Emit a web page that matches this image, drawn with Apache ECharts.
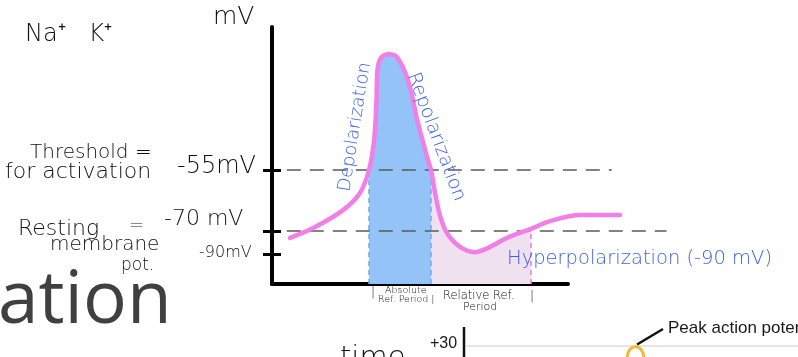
<!DOCTYPE html>
<html>
<head>
<meta charset="utf-8">
<script src="https://cdn.jsdelivr.net/npm/echarts@6/dist/echarts.min.js"></script>
<style>
html,body{margin:0;padding:0;background:#fff;}
#chart{width:798px;height:357px;}
</style>
</head>
<body>
<div id="chart"></div>
<script>
// ---- data (time in arbitrary units, membrane potential in sketch mV) ----
const TIME = [6.1, 13.9, 24.0, 29.7, 32.8, 34.5, 35.3, 35.6, 36.8, 39.5, 42.2, 45.9, 49.3, 52.4, 53.7, 55.1, 56.8, 59.1, 63.5, 68.6, 72.9, 79.4, 87.5, 93.9, 104.1, 117.6];
const VOLT = [-71.7, -69.3, -64.9, -60.7, -55.0, -47.7, -37.9, -30.8, -27.6, -26.7, -27.4, -33.0, -43.5, -51.9, -55.0, -60.7, -66.3, -70.5, -73.9, -75.2, -74.2, -71.7, -69.5, -67.6, -66.1, -66.1];
const ABS_REF = [4, 14];      // index range of absolute refractory period
const REL_REF = [14, 22];     // index range of relative refractory period
const THRESHOLD = -55;
const RESTING = -70;
const THRESH_SPAN = [5, 114.8];
const REST_SPAN = [5, 133.3];
const TICK_VALUES = [-55, -70, -75.6];
const TICK_LABELS = ['-55mV', '-70 mV', '-90mV'];
const Y_MIN = -83, Y_MAX = -20;

const curve = TIME.map((t, i) => [t, VOLT[i]]);
const seg = r => curve.slice(r[0], r[1] + 1);
const absSeg = seg(ABS_REF), relSeg = seg(REL_REF);

const HAND = '"DejaVu Sans",sans-serif';
const BLUE_TXT = '#3d62e4';
const INK = '#111111';

function txt(text, x, y, size, opts) {
  opts = opts || {};
  return {
    type: 'text', x: x, y: y, rotation: opts.rot || 0, z: 20,
    style: {
      text: text,
      font: (opts.weight || '200') + ' ' + size + 'px ' + (opts.family || HAND),
      fill: opts.color || INK,
      align: opts.align || 'left',
      verticalAlign: 'middle'
    }
  };
}

const chart = echarts.init(document.getElementById('chart'), null, {renderer: 'canvas'});
const option = {
  animation: false,
  backgroundColor: '#fff',
  grid: [
    {left: 272, top: 27, width: 296, height: 257},
    {left: 272, top: 27, width: 399.6, height: 257}
  ],
  xAxis: [
    {gridIndex: 0, type: 'value', min: 0, max: 100,
     axisLine: {show: true, onZero: false, lineStyle: {color: '#000', width: 4}},
     axisTick: {show: false}, axisLabel: {show: false}, splitLine: {show: false}},
    {gridIndex: 1, type: 'value', min: 0, max: 135, show: false}
  ],
  yAxis: [
    {gridIndex: 0, type: 'value', min: Y_MIN, max: Y_MAX,
     axisLine: {show: true, onZero: false, lineStyle: {color: '#000', width: 4}},
     axisTick: {show: true, inside: false, length: 9, customValues: TICK_VALUES, lineStyle: {color: '#000', width: 3}},
     axisLabel: {show: false}, splitLine: {show: false}},
    {gridIndex: 1, type: 'value', min: Y_MIN, max: Y_MAX,
     axisLine: {show: false},
     axisTick: {show: true, inside: true, length: 9, customValues: TICK_VALUES, lineStyle: {color: '#000', width: 3}},
     axisLabel: {show: false}, splitLine: {show: false}}
  ],
  series: [
    {
      type: 'line', xAxisIndex: 1, yAxisIndex: 1, data: relSeg, smooth: 0.35,
      symbol: 'none', lineStyle: {width: 0}, z: 1,
      areaStyle: {origin: 'start', color: '#f0e1f1', opacity: 1},
      markLine: {silent: true, symbol: 'none', label: {show: false},
        lineStyle: {color: '#e57be0', type: [5, 4], width: 1.5},
        data: [[{coord: [TIME[REL_REF[1]], Y_MIN]}, {coord: [TIME[REL_REF[1]], VOLT[REL_REF[1]]]}]]}
    },
    {
      type: 'line', xAxisIndex: 1, yAxisIndex: 1, data: absSeg, smooth: 0.35,
      symbol: 'none', lineStyle: {width: 0}, z: 2,
      areaStyle: {origin: 'start', color: '#93c3f7', opacity: 1},
      markLine: {silent: true, symbol: 'none', label: {show: false},
        lineStyle: {color: '#6ea8f2', type: [5, 4], width: 1.5},
        data: [
          [{coord: [TIME[ABS_REF[0]], Y_MIN]}, {coord: [TIME[ABS_REF[0]], THRESHOLD]}],
          [{coord: [TIME[ABS_REF[1]], Y_MIN]}, {coord: [TIME[ABS_REF[1]], THRESHOLD]}]
        ]}
    },
    {
      type: 'line', xAxisIndex: 1, yAxisIndex: 1, data: curve, smooth: 0.35,
      symbol: 'none', z: 5,
      lineStyle: {color: '#f27ee7', width: 4.5, cap: 'round', join: 'round'},
      markLine: {silent: true, symbol: 'none', label: {show: false}, z: 4,
        lineStyle: {color: '#5a5a5a', type: [14, 9], width: 1.5},
        data: [
          [{coord: [THRESH_SPAN[0], THRESHOLD]}, {coord: [THRESH_SPAN[1], THRESHOLD]}],
          [{coord: [REST_SPAN[0], RESTING]}, {coord: [REST_SPAN[1], RESTING]}]
        ]}
    }
  ],
  graphic: [
    txt('Na\u207A   K\u207A', 25, 35, 24),
    txt('mV', 213, 17, 25),
    txt('Threshold =', 30, 153, 20),
    txt('for activation', 5, 172, 22),
    txt(TICK_LABELS[0], 177, 167, 24),
    txt(TICK_LABELS[1], 164, 219, 22),
    txt('Resting', 18, 229, 22),
    txt('=', 129, 226, 18),
    txt('membrane', 50, 245, 20),
    txt('pot.', 121, 266, 17),
    txt(TICK_LABELS[2], 199, 253, 16),
    txt('Depolarization', 355, 127, 18, {color: BLUE_TXT, align: 'center', rot: 1.41}),
    txt('Repolarization', 436, 137, 19, {color: BLUE_TXT, align: 'center', rot: -1.21}),
    txt('Hyperpolarization (-90 mV)', 507, 259, 19.5, {color: BLUE_TXT}),
    txt('|', 371, 293, 12),
    txt('Absolute', 385, 291, 9.5),
    txt('Ref. Period |', 378, 300, 9.5),
    txt('Relative Ref.', 443, 296, 11.5),
    txt('Period', 463, 307, 11),
    txt('|', 530, 297, 12),
    txt('ation', -2, 302, 73, {family: '"Open Sans",sans-serif', color: '#404040', weight: 'normal'}),
    txt('time.', 340, 358, 29),
    txt('+30', 430, 344, 16, {family: '"Liberation Sans",Arial,sans-serif', color: '#1a1a1a', weight: 'normal'}),
    {type: 'line', z: 10, shape: {x1: 466, y1: 346, x2: 798, y2: 346}, style: {stroke: '#cccccc', lineWidth: 1}},
    {type: 'line', z: 10, shape: {x1: 464, y1: 327, x2: 464, y2: 357}, style: {stroke: '#111', lineWidth: 2.5}},
    {type: 'bezierCurve', z: 11, shape: {x1: 627, y1: 358, cpx1: 628, cpy1: 343, cpx2: 643, cpy2: 343, x2: 644, y2: 358},
     style: {stroke: '#f0b83c', lineWidth: 3, fill: null}},
    {type: 'line', z: 12, shape: {x1: 637, y1: 344.5, x2: 663, y2: 329}, style: {stroke: '#111', lineWidth: 2.5}},
    txt('Peak action potential', 668, 328, 17, {family: '"Liberation Sans",Arial,sans-serif', color: '#1a1a1a', weight: 'normal'})
  ]
};
chart.setOption(option);
</script>
</body>
</html>
